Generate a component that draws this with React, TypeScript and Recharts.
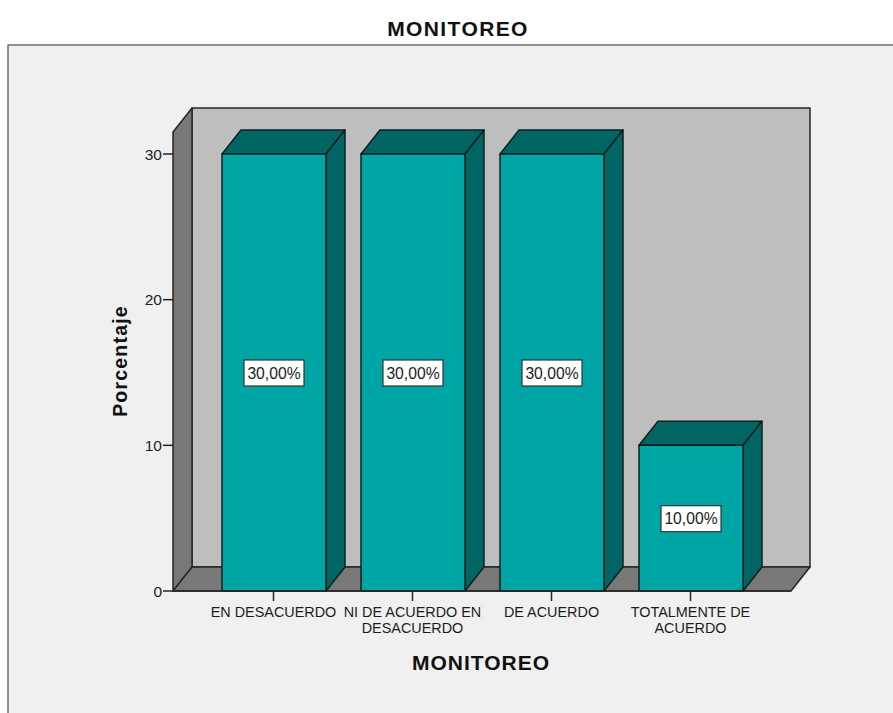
import { BarChart, Bar, XAxis, YAxis, LabelList } from "recharts";

const categories = [
  ["EN DESACUERDO"],
  ["NI DE ACUERDO EN", "DESACUERDO"],
  ["DE ACUERDO"],
  ["TOTALMENTE DE", "ACUERDO"],
];
const percentages = [30, 30, 30, 10];
const yTicks = [0, 10, 20, 30];

const data = categories.map((lines, i) => ({
  name: lines.join(" "),
  value: percentages[i],
}));

const W = 893;
const H = 713;
const LEFT = 173;
const RIGHT = 791;
const TOP = 154;
const BOTTOM = 591;
const DX = 19;
const DY = 24;
const WALL_TOP = 108;

const FONT = '"Liberation Sans", Arial, sans-serif';
const INK = "#1c1c1c";
const EDGE = "#262626";
const pts = (...p: number[][]) => p.map((q) => q.join(",")).join(" ");

const formatPct = (v: number) => v.toFixed(2).replace(".", ",") + "%";

function Walls() {
  return (
    <g stroke={EDGE} strokeWidth={1.5} strokeLinejoin="round">
      <rect x={8} y={45} width={W} height={H} fill="#f0f0f0" stroke="#6e6e6e" />
      <polygon
        points={pts([LEFT + DX, WALL_TOP], [RIGHT + DX, WALL_TOP], [RIGHT + DX, BOTTOM - DY], [LEFT + DX, BOTTOM - DY])}
        fill="#bebebe"
      />
      <polygon
        points={pts([LEFT, WALL_TOP + DY], [LEFT + DX, WALL_TOP], [LEFT + DX, BOTTOM - DY], [LEFT, BOTTOM])}
        fill="#787878"
      />
      <polygon
        points={pts([LEFT, BOTTOM], [LEFT + DX, BOTTOM - DY], [RIGHT + DX, BOTTOM - DY], [RIGHT, BOTTOM])}
        fill="#787878"
      />
    </g>
  );
}

function Box(props: any) {
  const { x, y, width, height } = props;
  const r = x + width;
  const b = y + height;
  return (
    <g stroke="#0d2020" strokeWidth={1.5} strokeLinejoin="round">
      <polygon points={pts([x, y], [x + DX, y - DY], [r + DX, y - DY], [r, y])} fill="#006563" />
      <polygon points={pts([r, y], [r + DX, y - DY], [r + DX, b - DY], [r, b])} fill="#006563" />
      <rect x={x} y={y} width={width} height={height} fill="#00a5a5" />
    </g>
  );
}

function ValueTag(props: any) {
  const { x, y, width, height, value } = props;
  const cx = x + width / 2;
  const cy = y + height / 2 + 0.5;
  return (
    <g>
      <rect x={cx - 30} y={cy - 13} width={60} height={26} fill="#ffffff" stroke="#333333" strokeWidth={1.2} />
      <text x={cx} y={cy + 5.5} textAnchor="middle" fontFamily={FONT} fontSize={15.7} fill={INK}>
        {formatPct(value)}
      </text>
    </g>
  );
}

function CategoryTick(props: any) {
  const { x, y, index } = props;
  return (
    <text x={x} y={y + 13.5} textAnchor="middle" fontFamily={FONT} fontSize={14.4} fill={INK}>
      {categories[index].map((line, i) => (
        <tspan key={line} x={x} dy={i === 0 ? 0 : 16}>
          {line}
        </tspan>
      ))}
    </text>
  );
}

export default function App() {
  return (
    <div style={{ position: "absolute", left: 0, top: 0, width: W, height: H, background: "#fff", overflow: "hidden" }}>
      <BarChart
        width={W}
        height={H}
        data={data}
        barSize={104}
        margin={{ left: 0, right: W - RIGHT, top: TOP, bottom: 0 }}
      >
        <Walls />
        <XAxis
          dataKey="name"
          interval={0}
          height={H - BOTTOM}
          padding={{ left: 31, right: 31 }}
          tickSize={10}
          tick={<CategoryTick />}
          axisLine={{ stroke: EDGE, strokeWidth: 1.5 }}
          tickLine={{ stroke: EDGE, strokeWidth: 1.5 }}
        />
        <YAxis
          domain={[0, 30]}
          ticks={yTicks}
          width={LEFT}
          tickSize={10}
          tickMargin={1}
          axisLine={false}
          tick={{ fontFamily: FONT, fontSize: 15.5, fill: INK }}
          tickLine={{ stroke: EDGE, strokeWidth: 1.5 }}
        />
        <Bar dataKey="value" shape={<Box />} isAnimationActive={false}>
          <LabelList dataKey="value" content={<ValueTag />} />
        </Bar>
        <text x={458} y={36} textAnchor="middle" fontFamily={FONT} fontWeight="bold" fontSize={21} letterSpacing={1.4} fill="#111">
          MONITOREO
        </text>
        <text x={481} y={670} textAnchor="middle" fontFamily={FONT} fontWeight="bold" fontSize={21} letterSpacing={1} fill="#111">
          MONITOREO
        </text>
        <text
          x={127}
          y={361}
          textAnchor="middle"
          transform="rotate(-90 127 361)"
          fontFamily={FONT}
          fontWeight="bold"
          fontSize={19.5}
          letterSpacing={1.2}
          fill="#111"
        >
          Porcentaje
        </text>
      </BarChart>
    </div>
  );
}
